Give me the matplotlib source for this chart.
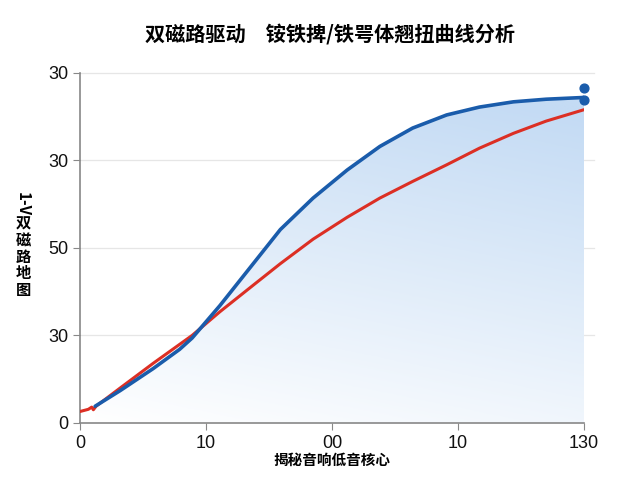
import numpy as np
import matplotlib
matplotlib.use("Agg")
import matplotlib.pyplot as plt
from matplotlib.path import Path
from matplotlib.patches import PathPatch
from matplotlib.colors import LinearSegmentedColormap

plt.rcParams['font.family'] = ['Noto Sans CJK SC', 'DejaVu Sans']

title = "双磁路驱动　铵铁捭/铁咢体翘扭曲线分析"
xlabel = "揭秘音响低音核心"
ylabel_top = "1-V"
ylabel_chars = "双磁路地图"

x_ticks = [0, 1, 2, 3, 4]
x_ticklabels = ["0", "10", "00", "10", "130"]
y_ticks = [0, 1, 2, 3, 4]
y_ticklabels = ["0", "30", "50", "30", "30"]

blue_x = [0.12, 0.32, 0.58, 0.79, 0.89, 1.11, 1.43, 1.59, 1.85, 2.12, 2.38, 2.64, 2.91, 3.17, 3.44, 3.70, 4.0]
blue_y = [0.19, 0.37, 0.62, 0.84, 0.97, 1.34, 1.92, 2.21, 2.57, 2.89, 3.16, 3.37, 3.52, 3.61, 3.67, 3.70, 3.72]

red_x = [0.0, 0.066, 0.093, 0.106, 0.127, 0.32, 0.58, 0.89, 1.11, 1.38, 1.59, 1.85, 2.12, 2.38, 2.64, 2.91, 3.17, 3.44, 3.70, 4.0]
red_y = [0.13, 0.155, 0.18, 0.15, 0.19, 0.40, 0.68, 1.00, 1.27, 1.58, 1.82, 2.10, 2.35, 2.57, 2.76, 2.95, 3.14, 3.31, 3.45, 3.58]

dots_x = [4.0, 4.0]
dots_y = [3.83, 3.69]

blue_c = "#1a5cab"
red_c = "#dc2f24"
tick_font = ['Liberation Sans', 'DejaVu Sans']

fig = plt.figure(figsize=(6.4, 4.8), dpi=100)
ax = fig.add_axes([0.125, 0.119, 0.7875, 0.729])
ax.set_xlim(0, 4)
ax.set_ylim(0, 4)

# gradient fill under blue curve
gx = np.linspace(0, 1, 128)
gy = np.linspace(0, 1, 128)
GX, GY = np.meshgrid(gx, gy)
grad = np.clip(GY * 0.85 + GX * 0.25, 0, 1)
cmap = LinearSegmentedColormap.from_list("g", ["#ffffff", "#c4dbf4"])
im = ax.imshow(grad, extent=[0, 4, 0, 4], origin="lower", cmap=cmap,
               aspect="auto", zorder=1, vmin=0, vmax=1, interpolation="bilinear")
verts = [(blue_x[0], 0)] + list(zip(blue_x, blue_y)) + [(blue_x[-1], 0), (blue_x[0], 0)]
codes = [Path.MOVETO] + [Path.LINETO] * (len(verts) - 2) + [Path.CLOSEPOLY]
patch = PathPatch(Path(verts, codes), facecolor="none", edgecolor="none")
ax.add_patch(patch)
im.set_clip_path(patch)

for yv in y_ticks[1:]:
    ax.axhline(yv, color="#e6e6e6", lw=0.9, zorder=0.5, xmax=1.02, clip_on=False)

ax.plot(red_x, red_y, color=red_c, lw=2.2, zorder=3, solid_joinstyle="round", solid_capstyle="round")
ax.plot(blue_x, blue_y, color=blue_c, lw=2.6, zorder=4, solid_joinstyle="round", solid_capstyle="round")
ax.scatter(dots_x, dots_y, color=blue_c, s=40, zorder=5, clip_on=False)

ax.set_xticks(x_ticks)
ax.set_xticklabels(x_ticklabels, fontsize=13, family=tick_font)
ax.set_yticks(y_ticks)
ax.set_yticklabels(y_ticklabels, fontsize=13, family=tick_font)
for s in ["top", "right"]:
    ax.spines[s].set_visible(False)
for s in ["left", "bottom"]:
    ax.spines[s].set_color("#888888")
    ax.spines[s].set_linewidth(1.2)
ax.tick_params(colors="#888888", labelcolor="#111111", length=5)

ax.set_xlabel(xlabel, fontsize=10.5, fontweight="bold", labelpad=0)
fig.text(0.516, 0.93, title, ha="center", va="center", fontsize=14.5, fontweight="heavy")
fig.text(0.036, 0.575, ylabel_top, rotation=-90, ha="center", va="center", fontsize=11, fontweight="bold")
fig.text(0.036, 0.465, "\n".join(ylabel_chars), ha="center", va="center", fontsize=11,
         fontweight="bold", linespacing=1.05)

fig.savefig("out.png", dpi=100)
